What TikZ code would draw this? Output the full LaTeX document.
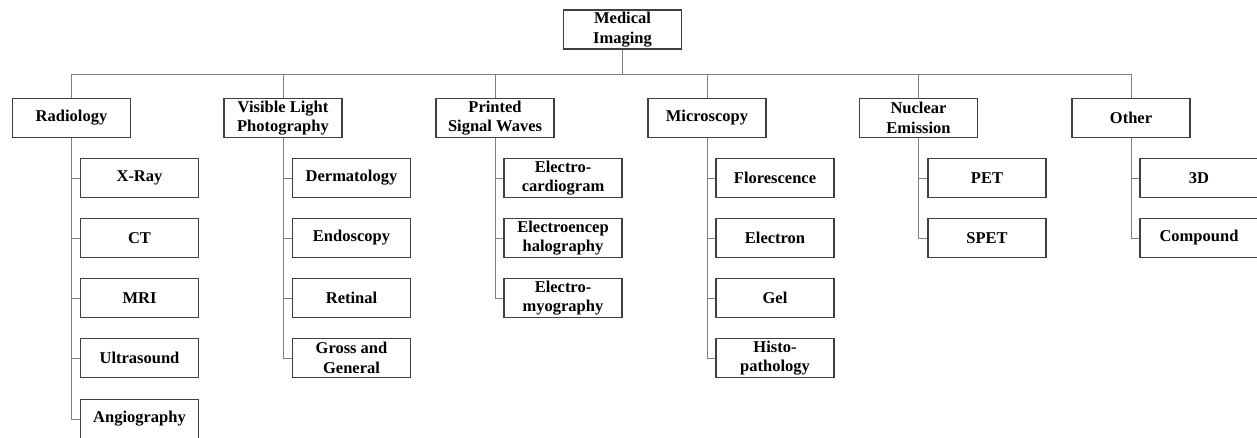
\documentclass[tikz,border=0pt]{standalone}
\usepackage{fontspec}
\setmainfont{Liberation Serif}
\begin{document}
\begin{tikzpicture}[x=1pt,y=-1pt,
  box/.style={draw=black!75,line width=1.5pt,fill=white,minimum width=118pt,minimum height=39pt,
    align=center,inner sep=1pt,font=\fontsize{16.5}{19.5}\selectfont\bfseries},
  conn/.style={draw=black!50,line width=0.9pt}]
\useasboundingbox (0,0) rectangle (1257,438);
\coordinate (busy) at (0,74);
\node[box] (root) at (622.5,29.5) {Medical\\Imaging};
% level 1
\node[box] (rad) at (71.5,118) {Radiology};
\node[box] (vis) at (283,118) {Visible Light\\Photography};
\node[box] (psw) at (495,118) {Printed\\Signal Waves};
\node[box] (mic) at (707,118) {Microscopy};
\node[box] (nuc) at (918.5,118) {Nuclear\\Emission};
\node[box] (oth) at (1131,118) {Other};
% children
\node[box] (xray) at (139.5,178) {X-Ray};
\node[box] (ct) at (139.5,238) {CT};
\node[box] (mri) at (139.5,298) {MRI};
\node[box] (us) at (139.5,358) {Ultrasound};
\node[box] (ang) at (139.5,419) {Angiography};
\node[box] (der) at (351.5,178) {Dermatology};
\node[box] (end) at (351.5,238) {Endoscopy};
\node[box] (ret) at (351.5,298) {Retinal};
\node[box] (gro) at (351.5,358) {Gross and\\General};
\node[box] (ecg) at (563,178) {Electro-\\cardiogram};
\node[box] (eeg) at (563,238) {Electroencep\\halography};
\node[box] (emg) at (563,298) {Electro-\\myography};
\node[box] (flo) at (775,178) {Florescence};
\node[box] (ele) at (775,238) {Electron};
\node[box] (gel) at (775,298) {Gel};
\node[box] (his) at (775,358) {Histo-\\pathology};
\node[box] (pet) at (987,178) {PET};
\node[box] (spet) at (987,238) {SPET};
\node[box] (td) at (1199,178) {3D};
\node[box] (com) at (1199,238) {Compound};
% connectors
\foreach \n in {rad,vis,psw,mic,nuc,oth}
  \draw[conn] (root.south) -- (root.south |- busy) -| (\n.north);
\foreach \p/\c in {rad/xray,rad/ct,rad/mri,rad/us,rad/ang,
                   vis/der,vis/end,vis/ret,vis/gro,
                   psw/ecg,psw/eeg,psw/emg,
                   mic/flo,mic/ele,mic/gel,mic/his,
                   nuc/pet,nuc/spet,oth/td,oth/com}
  \draw[conn] (\p.south) |- (\c.west);
\end{tikzpicture}
\end{document}
